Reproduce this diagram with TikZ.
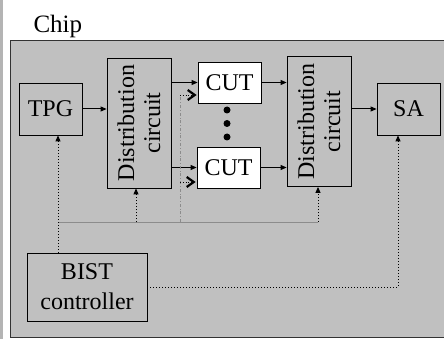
\documentclass[tikz,border=0pt]{standalone}
\usepackage{fontspec}
\setmainfont{Liberation Serif}
\definecolor{chipgray}{HTML}{C0C0C0}
\definecolor{busgray}{HTML}{8C8C8C}
\definecolor{edgegray}{HTML}{B4B4B4}
\usetikzlibrary{arrows.meta}

\begin{document}
\begin{tikzpicture}[x=1pt, y=-1pt,
		block/.style={draw=black, fill=chipgray, line width=0.8pt, minimum width=63pt, minimum height=52pt, inner sep=0pt, font=\fontsize{24}{26}\selectfont},
		dist/.style={block, minimum width=64pt, minimum height=130pt, label={[rotate=90, align=center, font=\fontsize{24}{26}\selectfont]center:Distribution\\circuit}},
		cut/.style={block, fill=white, minimum height=41pt},
		data/.style={line width=1pt, -{Triangle[length=6pt,width=5pt]}},
		ctrl/.style={line width=1pt, dotted, -{Triangle[length=6pt,width=5pt]}},
		select/.style={line width=0.8pt, dotted, -{Straight Barb[length=7pt,width=10pt,line width=2.2pt,sep=1pt]}}
	]
	\useasboundingbox (0,0) rectangle (444,339);
	% Chip area
	\fill[edgegray] (0,0) rectangle (2.5,339);
	\draw[draw=black!80, fill=chipgray, line width=0.8pt] (10,40) rectangle (450,337);
	\node[anchor=base west, font=\fontsize{25}{27}\selectfont] (chiplabel) at (30,33) {Chip};
	% Blocks
	\node[block] (TPG) at (50.5,109) {TPG};
	\node[dist] (DC1) at (139,123) {};
	\node[cut] (CUT1) at (229.5,82.5) {CUT};
	\node[cut] (CUT2) at (228.5,167.5) {CUT};
	\node[dist] (DC2) at (319,121.5) {};
	\node[block] (SA) at (408.5,109) {SA};
	\node[block, minimum width=120pt, minimum height=68pt, align=center] (BIST) at (87,287) {BIST\\[4pt]controller};
	\foreach \y in {110,123.5,137} {
			\fill (227,\y) circle (3.5pt);
		}
	% Data path
	\draw[data] (TPG.east) -- (TPG.east -| DC1.west);
	\draw[data] (CUT1.west -| DC1.east) -- (CUT1.west);
	\draw[data] (CUT2.west -| DC1.east) -- (CUT2.west);
	\draw[data] (CUT1.east) -- (CUT1.east -| DC2.west);
	\draw[data] (CUT2.east) -- (CUT2.east -| DC2.west);
	\draw[data] (DC2.east |- SA.west) -- (SA.west);
	% Control lines
	\coordinate (busL) at (58,222);
	\coordinate (busR) at (318,222);
	\coordinate (tap1) at (136,222);
	\coordinate (sel) at (180,222);
	\coordinate (sel1) at (180,95);
	\coordinate (sel2) at (180,182);
	\coordinate (sacorner) at (398,287);
	\draw[busgray, line width=0.8pt] (busL) -- (busR);
	\draw[busgray, line width=0.6pt, dash dot] (sel) -- (sel1);
	\draw[select] (sel1) -- (sel1 -| CUT1.west);
	\draw[select] (sel2) -- (sel2 -| CUT2.west);
	\draw[ctrl] (busL |- BIST.north) -- (busL |- TPG.south);
	\draw[ctrl] (tap1) -- (tap1 |- DC1.south);
	\draw[ctrl] (busR) -- (busR |- DC2.south);
	\draw[ctrl] (BIST.east) -- (sacorner) -- (sacorner |- SA.south);
\end{tikzpicture}
\end{document}
